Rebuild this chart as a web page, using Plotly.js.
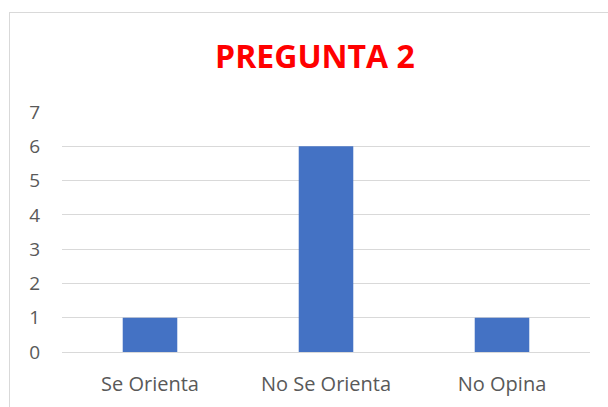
<!DOCTYPE html>
<html>
<head>
<meta charset="utf-8">
<script src="https://cdn.plot.ly/plotly-3.0.1.min.js"></script>
<style>
  html, body { margin: 0; padding: 0; width: 608px; height: 407px; overflow: hidden; background: #fff; }
  #frame { position: absolute; left: 9px; top: 12px; width: 640px; height: 440px; border: 1px solid #d9d9d9; box-sizing: border-box; }
  #chart { position: absolute; left: 0; top: 0; width: 608px; height: 407px; }
</style>
</head>
<body>
<div id="frame"></div>
<div id="chart"></div>
<script>
const categories = ["Se Orienta", "No Se Orienta", "No Opina"];
const values = [1, 6, 1];
const tickValues = [0, 1, 2, 3, 4, 5, 6, 7];
const chartTitle = "PREGUNTA 2";

const data = [{
  type: "bar",
  x: categories,
  y: values,
  marker: { color: "#4472C4" },
  hoverinfo: "x+y"
}];

const layout = {
  width: 608,
  height: 407,
  paper_bgcolor: "rgba(0,0,0,0)",
  plot_bgcolor: "rgba(0,0,0,0)",
  margin: { l: 62, r: 18, t: 112, b: 55 },
  bargap: 0.69,
  showlegend: false,
  title: {
    text: "<b>" + chartTitle + "</b>",
    font: { family: "Open Sans, sans-serif", size: 32, color: "#FF0000" },
    x: 0.518, xanchor: "center",
    y: 1 - 57 / 407, yanchor: "middle"
  },
  xaxis: {
    type: "category",
    showgrid: false,
    zeroline: false,
    showline: false,
    ticks: "",
    ticklabelstandoff: 18,
    tickfont: { family: "Open Sans, sans-serif", size: 20, color: "#595959" }
  },
  yaxis: {
    range: [0, 7],
    tickvals: tickValues,
    showgrid: true,
    gridcolor: "#d9d9d9",
    gridwidth: 1,
    zeroline: true,
    zerolinecolor: "#d9d9d9",
    zerolinewidth: 1,
    showline: false,
    ticks: "",
    ticklabelstandoff: 21,
    tickfont: { family: "Open Sans, sans-serif", size: 19, color: "#595959" }
  }
};

Plotly.newPlot("chart", data, layout, { displayModeBar: false, staticPlot: true });
</script>
</body>
</html>
